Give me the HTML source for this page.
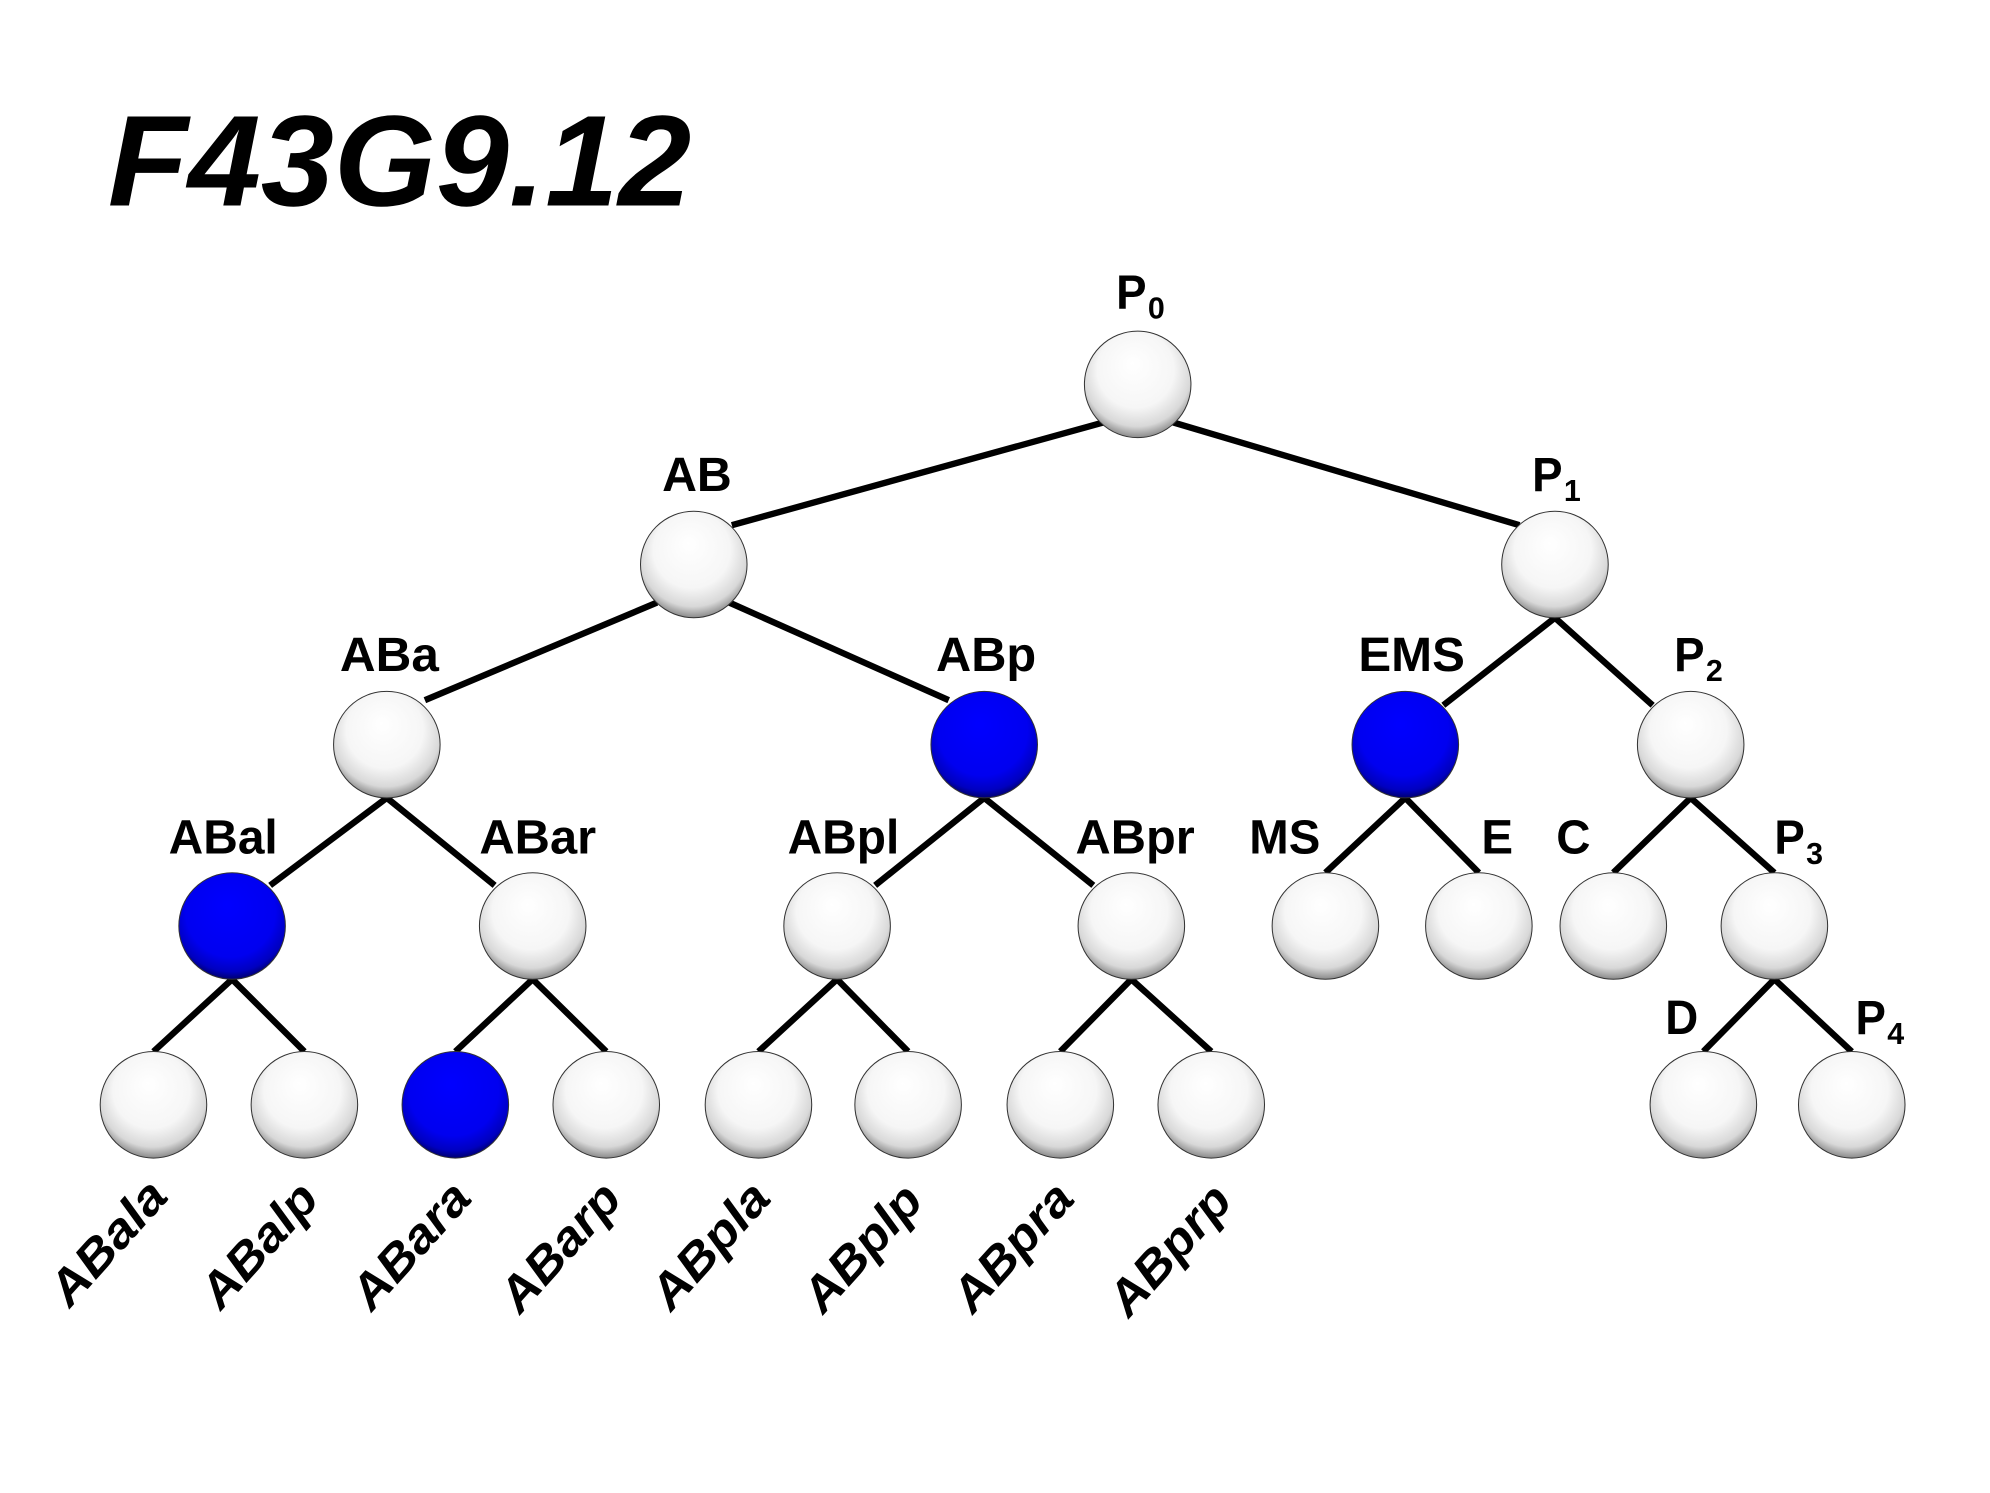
<!DOCTYPE html>
<html><head><meta charset="utf-8"><style>html,body{margin:0;padding:0;background:#fff}svg{display:block}</style></head>
<body>
<svg width="1990" height="1493" viewBox="0 0 1569 1177" xmlns="http://www.w3.org/2000/svg" font-family="Liberation Sans, Arial, sans-serif" font-weight="bold">
<defs>
<radialGradient id="w" cx="50%" cy="40%" r="60%" fx="45%" fy="30%">
<stop offset="0" stop-color="#ffffff"/><stop offset="0.6" stop-color="#f6f6f6"/><stop offset="0.85" stop-color="#d8d8d8"/><stop offset="1" stop-color="#8a8a8a"/></radialGradient>
<radialGradient id="b" cx="50%" cy="40%" r="60%" fx="45%" fy="30%">
<stop offset="0" stop-color="#0000ff"/><stop offset="0.7" stop-color="#0000f0"/><stop offset="0.9" stop-color="#0000c0"/><stop offset="1" stop-color="#000070"/></radialGradient>
</defs>
<text x="85" y="162" font-size="102" font-style="italic" textLength="460" lengthAdjust="spacingAndGlyphs">F43G9.12</text>
<g stroke="#000" stroke-width="5" stroke-linecap="butt">
<line x1="870" y1="333" x2="577" y2="414"/><line x1="925" y1="333" x2="1198" y2="414"/>
<line x1="518" y1="475" x2="335" y2="552"/><line x1="575" y1="475" x2="748" y2="552"/>
<line x1="1226" y1="487" x2="1138" y2="556"/><line x1="1226" y1="487" x2="1303" y2="556"/>
<line x1="305" y1="629" x2="213" y2="698"/><line x1="305" y1="629" x2="390" y2="698"/>
<line x1="776" y1="629" x2="690" y2="698"/><line x1="776" y1="629" x2="862" y2="698"/>
<line x1="1108" y1="629" x2="1045" y2="688"/><line x1="1108" y1="629" x2="1166" y2="688"/>
<line x1="1333" y1="629" x2="1272" y2="688"/><line x1="1333" y1="629" x2="1399" y2="688"/>
<line x1="183" y1="772" x2="121" y2="829"/><line x1="183" y1="772" x2="240" y2="829"/>
<line x1="420" y1="772" x2="359" y2="829"/><line x1="420" y1="772" x2="478" y2="829"/>
<line x1="660" y1="772" x2="598" y2="829"/><line x1="660" y1="772" x2="716" y2="829"/>
<line x1="892" y1="772" x2="836" y2="829"/><line x1="892" y1="772" x2="955" y2="829"/>
<line x1="1399" y1="772" x2="1343" y2="829"/><line x1="1399" y1="772" x2="1460" y2="829"/>
</g>
<g stroke="#333" stroke-width="0.8">
<circle cx="897" cy="303" r="42" fill="url(#w)"/>
<circle cx="547" cy="445" r="42" fill="url(#w)"/><circle cx="1226" cy="445" r="42" fill="url(#w)"/>
<circle cx="305" cy="587" r="42" fill="url(#w)"/><circle cx="776" cy="587" r="42" fill="url(#b)"/>
<circle cx="1108" cy="587" r="42" fill="url(#b)"/><circle cx="1333" cy="587" r="42" fill="url(#w)"/>
<circle cx="183" cy="730" r="42" fill="url(#b)"/><circle cx="420" cy="730" r="42" fill="url(#w)"/>
<circle cx="660" cy="730" r="42" fill="url(#w)"/><circle cx="892" cy="730" r="42" fill="url(#w)"/>
<circle cx="1045" cy="730" r="42" fill="url(#w)"/><circle cx="1166" cy="730" r="42" fill="url(#w)"/>
<circle cx="1272" cy="730" r="42" fill="url(#w)"/><circle cx="1399" cy="730" r="42" fill="url(#w)"/>
<circle cx="121" cy="871" r="42" fill="url(#w)"/><circle cx="240" cy="871" r="42" fill="url(#w)"/>
<circle cx="359" cy="871" r="42" fill="url(#b)"/><circle cx="478" cy="871" r="42" fill="url(#w)"/>
<circle cx="598" cy="871" r="42" fill="url(#w)"/><circle cx="716" cy="871" r="42" fill="url(#w)"/>
<circle cx="836" cy="871" r="42" fill="url(#w)"/><circle cx="955" cy="871" r="42" fill="url(#w)"/>
<circle cx="1343" cy="871" r="42" fill="url(#w)"/><circle cx="1460" cy="871" r="42" fill="url(#w)"/>
</g>
<g font-size="38">
<text x="880" y="243" textLength="24" lengthAdjust="spacingAndGlyphs">P</text><text x="905" y="251" font-size="24">0</text>
<text x="522" y="387" textLength="55" lengthAdjust="spacingAndGlyphs">AB</text>
<text x="1208" y="387" textLength="24" lengthAdjust="spacingAndGlyphs">P</text><text x="1233" y="395" font-size="24">1</text>
<text x="268" y="529" textLength="78" lengthAdjust="spacingAndGlyphs">ABa</text>
<text x="738" y="529" textLength="79" lengthAdjust="spacingAndGlyphs">ABp</text>
<text x="1071" y="529" textLength="84" lengthAdjust="spacingAndGlyphs">EMS</text>
<text x="1320" y="529" textLength="24" lengthAdjust="spacingAndGlyphs">P</text><text x="1345" y="537" font-size="24">2</text>
<text x="133" y="673" textLength="86" lengthAdjust="spacingAndGlyphs">ABal</text>
<text x="378" y="673" textLength="92" lengthAdjust="spacingAndGlyphs">ABar</text>
<text x="621" y="673" textLength="88" lengthAdjust="spacingAndGlyphs">ABpl</text>
<text x="848" y="673" textLength="94" lengthAdjust="spacingAndGlyphs">ABpr</text>
<text x="985" y="673" textLength="56" lengthAdjust="spacingAndGlyphs">MS</text>
<text x="1168" y="673" textLength="25" lengthAdjust="spacingAndGlyphs">E</text>
<text x="1227" y="673" textLength="27" lengthAdjust="spacingAndGlyphs">C</text>
<text x="1399" y="673" textLength="24" lengthAdjust="spacingAndGlyphs">P</text><text x="1424" y="681" font-size="24">3</text>
<text x="1313" y="815" textLength="26" lengthAdjust="spacingAndGlyphs">D</text>
<text x="1463" y="815" textLength="24" lengthAdjust="spacingAndGlyphs">P</text><text x="1488" y="823" font-size="24">4</text>
</g>
<g font-size="38" font-style="italic">
<text transform="translate(55,1032) rotate(-48)" textLength="118" lengthAdjust="spacingAndGlyphs">ABala</text>
<text transform="translate(174,1034) rotate(-48)" textLength="118" lengthAdjust="spacingAndGlyphs">ABalp</text>
<text transform="translate(293,1035) rotate(-48)" textLength="120" lengthAdjust="spacingAndGlyphs">ABara</text>
<text transform="translate(410,1037) rotate(-48)" textLength="122" lengthAdjust="spacingAndGlyphs">ABarp</text>
<text transform="translate(529,1035) rotate(-48)" textLength="120" lengthAdjust="spacingAndGlyphs">ABpla</text>
<text transform="translate(649,1037) rotate(-48)" textLength="120" lengthAdjust="spacingAndGlyphs">ABplp</text>
<text transform="translate(767,1037) rotate(-48)" textLength="122" lengthAdjust="spacingAndGlyphs">ABpra</text>
<text transform="translate(890,1040) rotate(-48)" textLength="124" lengthAdjust="spacingAndGlyphs">ABprp</text>
</g>
</svg>
</body></html>
